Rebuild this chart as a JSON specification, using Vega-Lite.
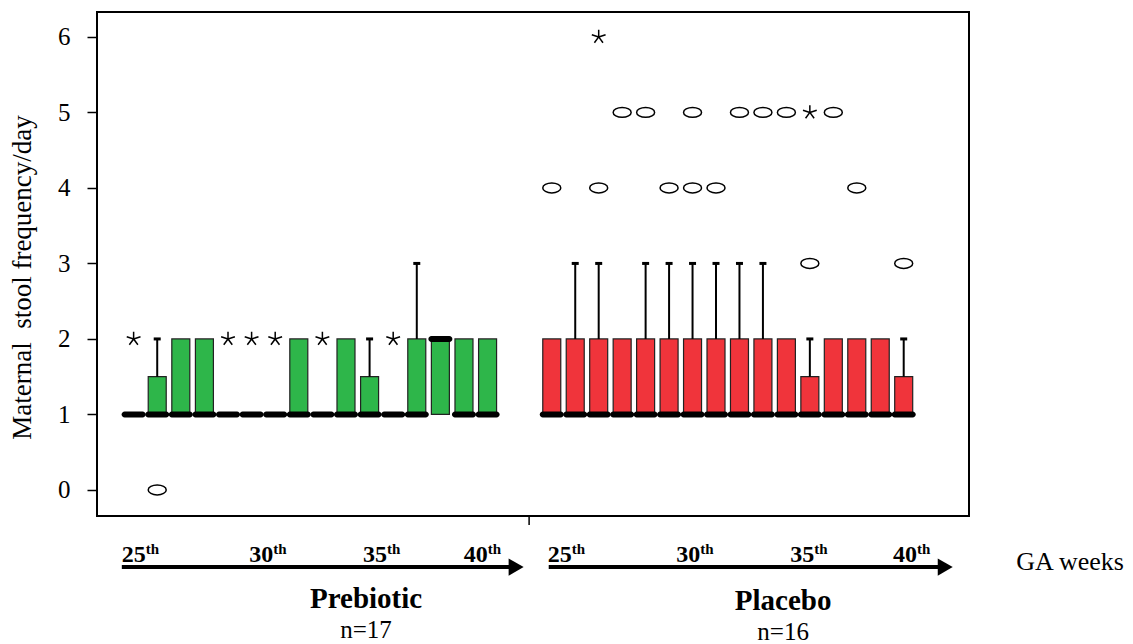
{
  "$schema": "https://vega.github.io/schema/vega-lite/v6.json",
  "width": 872,
  "height": 504,
  "autosize": {"type": "none"},
  "padding": {"left": 97, "top": 12, "right": 164, "bottom": 128},
  "background": "white",
  "config": {
    "font": "Liberation Serif",
    "view": {"stroke": "#000", "strokeWidth": 2},
    "axisY": {
      "grid": false, "domain": false, "tickSize": 10, "tickWidth": 1.5, "tickColor": "#000",
      "labelFont": "Liberation Serif", "labelFontSize": 25, "labelColor": "#000", "labelPadding": 17,
      "titleFont": "Liberation Serif", "titleFontSize": 27, "titleFontWeight": "normal", "titleColor": "#000",
      "titleX": -67, "titleY": 265, "titleAngle": -90, "titleAlign": "center", "titleBaseline": "alphabetic"
    }
  },
  "datasets": {
    "boxes": [
      {"group": "Prebiotic", "week": 25, "q1": 1, "median": 1, "q3": 1, "upper": 1},
      {"group": "Prebiotic", "week": 26, "q1": 1, "median": 1, "q3": 1.5, "upper": 2},
      {"group": "Prebiotic", "week": 27, "q1": 1, "median": 1, "q3": 2, "upper": 2},
      {"group": "Prebiotic", "week": 28, "q1": 1, "median": 1, "q3": 2, "upper": 2},
      {"group": "Prebiotic", "week": 29, "q1": 1, "median": 1, "q3": 1, "upper": 1},
      {"group": "Prebiotic", "week": 30, "q1": 1, "median": 1, "q3": 1, "upper": 1},
      {"group": "Prebiotic", "week": 31, "q1": 1, "median": 1, "q3": 1, "upper": 1},
      {"group": "Prebiotic", "week": 32, "q1": 1, "median": 1, "q3": 2, "upper": 2},
      {"group": "Prebiotic", "week": 33, "q1": 1, "median": 1, "q3": 1, "upper": 1},
      {"group": "Prebiotic", "week": 34, "q1": 1, "median": 1, "q3": 2, "upper": 2},
      {"group": "Prebiotic", "week": 35, "q1": 1, "median": 1, "q3": 1.5, "upper": 2},
      {"group": "Prebiotic", "week": 36, "q1": 1, "median": 1, "q3": 1, "upper": 1},
      {"group": "Prebiotic", "week": 37, "q1": 1, "median": 1, "q3": 2, "upper": 3},
      {"group": "Prebiotic", "week": 38, "q1": 1, "median": 2, "q3": 2, "upper": 2},
      {"group": "Prebiotic", "week": 39, "q1": 1, "median": 1, "q3": 2, "upper": 2},
      {"group": "Prebiotic", "week": 40, "q1": 1, "median": 1, "q3": 2, "upper": 2},
      {"group": "Placebo", "week": 25, "q1": 1, "median": 1, "q3": 2, "upper": 2},
      {"group": "Placebo", "week": 26, "q1": 1, "median": 1, "q3": 2, "upper": 3},
      {"group": "Placebo", "week": 27, "q1": 1, "median": 1, "q3": 2, "upper": 3},
      {"group": "Placebo", "week": 28, "q1": 1, "median": 1, "q3": 2, "upper": 2},
      {"group": "Placebo", "week": 29, "q1": 1, "median": 1, "q3": 2, "upper": 3},
      {"group": "Placebo", "week": 30, "q1": 1, "median": 1, "q3": 2, "upper": 3},
      {"group": "Placebo", "week": 31, "q1": 1, "median": 1, "q3": 2, "upper": 3},
      {"group": "Placebo", "week": 32, "q1": 1, "median": 1, "q3": 2, "upper": 3},
      {"group": "Placebo", "week": 33, "q1": 1, "median": 1, "q3": 2, "upper": 3},
      {"group": "Placebo", "week": 34, "q1": 1, "median": 1, "q3": 2, "upper": 3},
      {"group": "Placebo", "week": 35, "q1": 1, "median": 1, "q3": 2, "upper": 2},
      {"group": "Placebo", "week": 36, "q1": 1, "median": 1, "q3": 1.5, "upper": 2},
      {"group": "Placebo", "week": 37, "q1": 1, "median": 1, "q3": 2, "upper": 2},
      {"group": "Placebo", "week": 38, "q1": 1, "median": 1, "q3": 2, "upper": 2},
      {"group": "Placebo", "week": 39, "q1": 1, "median": 1, "q3": 2, "upper": 2},
      {"group": "Placebo", "week": 40, "q1": 1, "median": 1, "q3": 1.5, "upper": 2}
    ],
    "points": [
      {"group": "Prebiotic", "week": 25, "value": 2, "kind": "extreme"},
      {"group": "Prebiotic", "week": 26, "value": 0, "kind": "outlier"},
      {"group": "Prebiotic", "week": 29, "value": 2, "kind": "extreme"},
      {"group": "Prebiotic", "week": 30, "value": 2, "kind": "extreme"},
      {"group": "Prebiotic", "week": 31, "value": 2, "kind": "extreme"},
      {"group": "Prebiotic", "week": 33, "value": 2, "kind": "extreme"},
      {"group": "Prebiotic", "week": 36, "value": 2, "kind": "extreme"},
      {"group": "Placebo", "week": 25, "value": 4, "kind": "outlier"},
      {"group": "Placebo", "week": 27, "value": 4, "kind": "outlier"},
      {"group": "Placebo", "week": 27, "value": 6, "kind": "extreme"},
      {"group": "Placebo", "week": 28, "value": 5, "kind": "outlier"},
      {"group": "Placebo", "week": 29, "value": 5, "kind": "outlier"},
      {"group": "Placebo", "week": 30, "value": 4, "kind": "outlier"},
      {"group": "Placebo", "week": 31, "value": 5, "kind": "outlier"},
      {"group": "Placebo", "week": 31, "value": 4, "kind": "outlier"},
      {"group": "Placebo", "week": 32, "value": 4, "kind": "outlier"},
      {"group": "Placebo", "week": 33, "value": 5, "kind": "outlier"},
      {"group": "Placebo", "week": 34, "value": 5, "kind": "outlier"},
      {"group": "Placebo", "week": 35, "value": 5, "kind": "outlier"},
      {"group": "Placebo", "week": 36, "value": 5, "kind": "extreme"},
      {"group": "Placebo", "week": 36, "value": 3, "kind": "outlier"},
      {"group": "Placebo", "week": 37, "value": 5, "kind": "outlier"},
      {"group": "Placebo", "week": 38, "value": 4, "kind": "outlier"},
      {"group": "Placebo", "week": 40, "value": 3, "kind": "outlier"}
    ],
    "labels": [
      {"group": "Prebiotic", "week": 24.5, "v": -0.955, "text": "25", "kind": "num"},
      {"group": "Prebiotic", "week": 29.9, "v": -0.955, "text": "30", "kind": "num"},
      {"group": "Prebiotic", "week": 34.72, "v": -0.955, "text": "35", "kind": "num"},
      {"group": "Prebiotic", "week": 38.99, "v": -0.955, "text": "40", "kind": "num"},
      {"group": "Prebiotic", "week": 34.85, "v": -1.565, "text": "Prebiotic", "kind": "grp"},
      {"group": "Prebiotic", "week": 34.85, "v": -1.96, "text": "n=17", "kind": "n"},
      {"group": "Placebo", "week": 24.83, "v": -0.955, "text": "25", "kind": "num"},
      {"group": "Placebo", "week": 30.31, "v": -0.955, "text": "30", "kind": "num"},
      {"group": "Placebo", "week": 35.16, "v": -0.955, "text": "35", "kind": "num"},
      {"group": "Placebo", "week": 39.54, "v": -0.955, "text": "40", "kind": "num"},
      {"group": "Placebo", "week": 34.86, "v": -1.59, "text": "Placebo", "kind": "grp"},
      {"group": "Placebo", "week": 34.86, "v": -1.99, "text": "n=16", "kind": "n"},
      {"group": "Placebo", "week": 44.8, "v": -1.06, "text": "GA weeks", "kind": "ga"}
    ],
    "arrows": [
      {"group": "Prebiotic", "week": 24.5, "week2": 40.96, "head": 41.21, "v": -1.021},
      {"group": "Placebo", "week": 24.87, "week2": 41.52, "head": 41.77, "v": -1.021}
    ],
    "ticks": [
      {"group": "Prebiotic", "week": 41.76, "v": -0.345, "v2": -0.465}
    ]
  },
  "layer": [
    {
      "encoding": {"x": {"field": "week", "type": "quantitative", "scale": {"domain": [23.66, 60.19], "nice": false, "zero": false}, "axis": null}},
      "layer": [
        {"data": {"name": "boxes"}, "transform": [{"filter": "datum.group === 'Prebiotic' && datum.q3 > datum.q1"}],
         "mark": {"type": "bar", "size": 18, "fill": "#2eb64a", "stroke": "#222", "strokeWidth": 1.2},
         "encoding": {"y": {"field": "q1", "type": "quantitative", "scale": {"domain": [-0.345, 6.33], "nice": false, "zero": false}, "axis": {"values": [0, 1, 2, 3, 4, 5, 6]}, "title": "Maternal\u00a0 stool frequency/day"}, "y2": {"field": "q3"}}},
        {"data": {"name": "boxes"}, "transform": [{"filter": "datum.group === 'Prebiotic' && datum.upper > datum.q3"}],
         "mark": {"type": "rule", "color": "#000", "strokeWidth": 2},
         "encoding": {"y": {"field": "q3", "type": "quantitative", "scale": {"domain": [-0.345, 6.33], "nice": false, "zero": false}, "axis": {"values": [0, 1, 2, 3, 4, 5, 6]}, "title": "Maternal\u00a0 stool frequency/day"}, "y2": {"field": "upper"}}},
        {"data": {"name": "boxes"}, "transform": [{"filter": "datum.group === 'Prebiotic' && datum.upper > datum.q3"}],
         "mark": {"type": "tick", "orient": "horizontal", "color": "#000", "size": 7, "thickness": 3, "opacity": 1},
         "encoding": {"y": {"field": "upper", "type": "quantitative", "scale": {"domain": [-0.345, 6.33], "nice": false, "zero": false}, "axis": {"values": [0, 1, 2, 3, 4, 5, 6]}, "title": "Maternal\u00a0 stool frequency/day"}}},
        {"data": {"name": "boxes"}, "transform": [{"filter": "datum.group === 'Prebiotic'"}],
         "mark": {"type": "tick", "orient": "horizontal", "color": "#000", "size": 24, "thickness": 6, "cornerRadius": 3, "opacity": 1},
         "encoding": {"y": {"field": "median", "type": "quantitative", "scale": {"domain": [-0.345, 6.33], "nice": false, "zero": false}, "axis": {"values": [0, 1, 2, 3, 4, 5, 6]}, "title": "Maternal\u00a0 stool frequency/day"}}},
        {"data": {"name": "points"}, "transform": [{"filter": "datum.group === 'Prebiotic' && datum.kind === 'outlier'"}],
         "mark": {"type": "point", "shape": "M-1,0A1,0.55,0,1,1,1,0A1,0.55,0,1,1,-1,0Z", "size": 324, "filled": false, "stroke": "#000", "strokeWidth": 1.5, "opacity": 1},
         "encoding": {"y": {"field": "value", "type": "quantitative", "scale": {"domain": [-0.345, 6.33], "nice": false, "zero": false}, "axis": {"values": [0, 1, 2, 3, 4, 5, 6]}, "title": "Maternal\u00a0 stool frequency/day"}}},
        {"data": {"name": "points"}, "transform": [{"filter": "datum.group === 'Prebiotic' && datum.kind === 'extreme'"}],
         "mark": {"type": "point", "shape": "M0,0L0,-1M0,0L0.95,-0.31M0,0L-0.95,-0.31M0,0L-0.59,0.81M0,0L0.59,0.81", "size": 210, "filled": false, "stroke": "#000", "strokeWidth": 1.5, "opacity": 1},
         "encoding": {"y": {"field": "value", "type": "quantitative", "scale": {"domain": [-0.345, 6.33], "nice": false, "zero": false}, "axis": {"values": [0, 1, 2, 3, 4, 5, 6]}, "title": "Maternal\u00a0 stool frequency/day"}}},
        {"data": {"name": "arrows"}, "transform": [{"filter": "datum.group === 'Prebiotic'"}],
         "mark": {"type": "rule", "color": "#000", "strokeWidth": 4},
         "encoding": {"x2": {"field": "week2"}, "y": {"field": "v", "type": "quantitative", "scale": {"domain": [-0.345, 6.33], "nice": false, "zero": false}, "axis": {"values": [0, 1, 2, 3, 4, 5, 6]}, "title": "Maternal\u00a0 stool frequency/day"}}},
        {"data": {"name": "arrows"}, "transform": [{"filter": "datum.group === 'Prebiotic'"}],
         "mark": {"type": "point", "shape": "triangle-right", "size": 300, "filled": true, "color": "#000", "opacity": 1},
         "encoding": {"x": {"field": "head", "type": "quantitative", "scale": {"domain": [23.66, 60.19], "nice": false, "zero": false}, "axis": null}, "y": {"field": "v", "type": "quantitative", "scale": {"domain": [-0.345, 6.33], "nice": false, "zero": false}, "axis": {"values": [0, 1, 2, 3, 4, 5, 6]}, "title": "Maternal\u00a0 stool frequency/day"}}},
        {"data": {"name": "ticks"}, "transform": [{"filter": "datum.group === 'Prebiotic'"}],
         "mark": {"type": "rule", "color": "#000", "strokeWidth": 1.5},
         "encoding": {"y": {"field": "v", "type": "quantitative", "scale": {"domain": [-0.345, 6.33], "nice": false, "zero": false}, "axis": {"values": [0, 1, 2, 3, 4, 5, 6]}, "title": "Maternal\u00a0 stool frequency/day"}, "y2": {"field": "v2"}}},
        {"data": {"name": "labels"}, "transform": [{"filter": "datum.group === 'Prebiotic' && datum.kind === 'num'"}],
         "mark": {"type": "text", "align": "left", "baseline": "alphabetic", "font": "Liberation Serif", "fontSize": 24, "fontWeight": "bold", "color": "#000"},
         "encoding": {"text": {"field": "text"}, "y": {"field": "v", "type": "quantitative", "scale": {"domain": [-0.345, 6.33], "nice": false, "zero": false}, "axis": {"values": [0, 1, 2, 3, 4, 5, 6]}, "title": "Maternal\u00a0 stool frequency/day"}}},
        {"data": {"name": "labels"}, "transform": [{"filter": "datum.group === 'Prebiotic' && datum.kind === 'num'"}],
         "mark": {"type": "text", "align": "left", "baseline": "alphabetic", "font": "Liberation Serif", "fontSize": 15, "fontWeight": "bold", "color": "#000", "dx": 24, "dy": -8, "text": "th"},
         "encoding": {"y": {"field": "v", "type": "quantitative", "scale": {"domain": [-0.345, 6.33], "nice": false, "zero": false}, "axis": {"values": [0, 1, 2, 3, 4, 5, 6]}, "title": "Maternal\u00a0 stool frequency/day"}}},
        {"data": {"name": "labels"}, "transform": [{"filter": "datum.group === 'Prebiotic' && datum.kind === 'grp'"}],
         "mark": {"type": "text", "align": "center", "baseline": "alphabetic", "font": "Liberation Serif", "fontSize": 29, "fontWeight": "bold", "color": "#000"},
         "encoding": {"text": {"field": "text"}, "y": {"field": "v", "type": "quantitative", "scale": {"domain": [-0.345, 6.33], "nice": false, "zero": false}, "axis": {"values": [0, 1, 2, 3, 4, 5, 6]}, "title": "Maternal\u00a0 stool frequency/day"}}},
        {"data": {"name": "labels"}, "transform": [{"filter": "datum.group === 'Prebiotic' && datum.kind === 'n'"}],
         "mark": {"type": "text", "align": "center", "baseline": "alphabetic", "font": "Liberation Serif", "fontSize": 25, "color": "#000"},
         "encoding": {"text": {"field": "text"}, "y": {"field": "v", "type": "quantitative", "scale": {"domain": [-0.345, 6.33], "nice": false, "zero": false}, "axis": {"values": [0, 1, 2, 3, 4, 5, 6]}, "title": "Maternal\u00a0 stool frequency/day"}}}
      ]
    },
    {
      "encoding": {"x": {"field": "week", "type": "quantitative", "scale": {"domain": [5.83, 42.57], "nice": false, "zero": false}, "axis": null}},
      "layer": [
        {"data": {"name": "boxes"}, "transform": [{"filter": "datum.group === 'Placebo' && datum.q3 > datum.q1"}],
         "mark": {"type": "bar", "size": 18, "fill": "#f0343b", "stroke": "#222", "strokeWidth": 1.2},
         "encoding": {"y": {"field": "q1", "type": "quantitative", "scale": {"domain": [-0.345, 6.33], "nice": false, "zero": false}, "axis": {"values": [0, 1, 2, 3, 4, 5, 6]}, "title": "Maternal\u00a0 stool frequency/day"}, "y2": {"field": "q3"}}},
        {"data": {"name": "boxes"}, "transform": [{"filter": "datum.group === 'Placebo' && datum.upper > datum.q3"}],
         "mark": {"type": "rule", "color": "#000", "strokeWidth": 2},
         "encoding": {"y": {"field": "q3", "type": "quantitative", "scale": {"domain": [-0.345, 6.33], "nice": false, "zero": false}, "axis": {"values": [0, 1, 2, 3, 4, 5, 6]}, "title": "Maternal\u00a0 stool frequency/day"}, "y2": {"field": "upper"}}},
        {"data": {"name": "boxes"}, "transform": [{"filter": "datum.group === 'Placebo' && datum.upper > datum.q3"}],
         "mark": {"type": "tick", "orient": "horizontal", "color": "#000", "size": 7, "thickness": 3, "opacity": 1},
         "encoding": {"y": {"field": "upper", "type": "quantitative", "scale": {"domain": [-0.345, 6.33], "nice": false, "zero": false}, "axis": {"values": [0, 1, 2, 3, 4, 5, 6]}, "title": "Maternal\u00a0 stool frequency/day"}}},
        {"data": {"name": "boxes"}, "transform": [{"filter": "datum.group === 'Placebo'"}],
         "mark": {"type": "tick", "orient": "horizontal", "color": "#000", "size": 24, "thickness": 6, "cornerRadius": 3, "opacity": 1},
         "encoding": {"y": {"field": "median", "type": "quantitative", "scale": {"domain": [-0.345, 6.33], "nice": false, "zero": false}, "axis": {"values": [0, 1, 2, 3, 4, 5, 6]}, "title": "Maternal\u00a0 stool frequency/day"}}},
        {"data": {"name": "points"}, "transform": [{"filter": "datum.group === 'Placebo' && datum.kind === 'outlier'"}],
         "mark": {"type": "point", "shape": "M-1,0A1,0.55,0,1,1,1,0A1,0.55,0,1,1,-1,0Z", "size": 324, "filled": false, "stroke": "#000", "strokeWidth": 1.5, "opacity": 1},
         "encoding": {"y": {"field": "value", "type": "quantitative", "scale": {"domain": [-0.345, 6.33], "nice": false, "zero": false}, "axis": {"values": [0, 1, 2, 3, 4, 5, 6]}, "title": "Maternal\u00a0 stool frequency/day"}}},
        {"data": {"name": "points"}, "transform": [{"filter": "datum.group === 'Placebo' && datum.kind === 'extreme'"}],
         "mark": {"type": "point", "shape": "M0,0L0,-1M0,0L0.95,-0.31M0,0L-0.95,-0.31M0,0L-0.59,0.81M0,0L0.59,0.81", "size": 210, "filled": false, "stroke": "#000", "strokeWidth": 1.5, "opacity": 1},
         "encoding": {"y": {"field": "value", "type": "quantitative", "scale": {"domain": [-0.345, 6.33], "nice": false, "zero": false}, "axis": {"values": [0, 1, 2, 3, 4, 5, 6]}, "title": "Maternal\u00a0 stool frequency/day"}}},
        {"data": {"name": "arrows"}, "transform": [{"filter": "datum.group === 'Placebo'"}],
         "mark": {"type": "rule", "color": "#000", "strokeWidth": 4},
         "encoding": {"x2": {"field": "week2"}, "y": {"field": "v", "type": "quantitative", "scale": {"domain": [-0.345, 6.33], "nice": false, "zero": false}, "axis": {"values": [0, 1, 2, 3, 4, 5, 6]}, "title": "Maternal\u00a0 stool frequency/day"}}},
        {"data": {"name": "arrows"}, "transform": [{"filter": "datum.group === 'Placebo'"}],
         "mark": {"type": "point", "shape": "triangle-right", "size": 300, "filled": true, "color": "#000", "opacity": 1},
         "encoding": {"x": {"field": "head", "type": "quantitative", "scale": {"domain": [5.83, 42.57], "nice": false, "zero": false}, "axis": null}, "y": {"field": "v", "type": "quantitative", "scale": {"domain": [-0.345, 6.33], "nice": false, "zero": false}, "axis": {"values": [0, 1, 2, 3, 4, 5, 6]}, "title": "Maternal\u00a0 stool frequency/day"}}},
        {"data": {"name": "labels"}, "transform": [{"filter": "datum.group === 'Placebo' && datum.kind === 'num'"}],
         "mark": {"type": "text", "align": "left", "baseline": "alphabetic", "font": "Liberation Serif", "fontSize": 24, "fontWeight": "bold", "color": "#000"},
         "encoding": {"text": {"field": "text"}, "y": {"field": "v", "type": "quantitative", "scale": {"domain": [-0.345, 6.33], "nice": false, "zero": false}, "axis": {"values": [0, 1, 2, 3, 4, 5, 6]}, "title": "Maternal\u00a0 stool frequency/day"}}},
        {"data": {"name": "labels"}, "transform": [{"filter": "datum.group === 'Placebo' && datum.kind === 'num'"}],
         "mark": {"type": "text", "align": "left", "baseline": "alphabetic", "font": "Liberation Serif", "fontSize": 15, "fontWeight": "bold", "color": "#000", "dx": 24, "dy": -8, "text": "th"},
         "encoding": {"y": {"field": "v", "type": "quantitative", "scale": {"domain": [-0.345, 6.33], "nice": false, "zero": false}, "axis": {"values": [0, 1, 2, 3, 4, 5, 6]}, "title": "Maternal\u00a0 stool frequency/day"}}},
        {"data": {"name": "labels"}, "transform": [{"filter": "datum.group === 'Placebo' && datum.kind === 'grp'"}],
         "mark": {"type": "text", "align": "center", "baseline": "alphabetic", "font": "Liberation Serif", "fontSize": 29, "fontWeight": "bold", "color": "#000"},
         "encoding": {"text": {"field": "text"}, "y": {"field": "v", "type": "quantitative", "scale": {"domain": [-0.345, 6.33], "nice": false, "zero": false}, "axis": {"values": [0, 1, 2, 3, 4, 5, 6]}, "title": "Maternal\u00a0 stool frequency/day"}}},
        {"data": {"name": "labels"}, "transform": [{"filter": "datum.group === 'Placebo' && datum.kind === 'n'"}],
         "mark": {"type": "text", "align": "center", "baseline": "alphabetic", "font": "Liberation Serif", "fontSize": 25, "color": "#000"},
         "encoding": {"text": {"field": "text"}, "y": {"field": "v", "type": "quantitative", "scale": {"domain": [-0.345, 6.33], "nice": false, "zero": false}, "axis": {"values": [0, 1, 2, 3, 4, 5, 6]}, "title": "Maternal\u00a0 stool frequency/day"}}},
        {"data": {"name": "labels"}, "transform": [{"filter": "datum.group === 'Placebo' && datum.kind === 'ga'"}],
         "mark": {"type": "text", "align": "left", "baseline": "alphabetic", "font": "Liberation Serif", "fontSize": 26, "color": "#000"},
         "encoding": {"text": {"field": "text"}, "y": {"field": "v", "type": "quantitative", "scale": {"domain": [-0.345, 6.33], "nice": false, "zero": false}, "axis": {"values": [0, 1, 2, 3, 4, 5, 6]}, "title": "Maternal\u00a0 stool frequency/day"}}}
      ]
    }
  ],
  "resolve": {"scale": {"x": "independent"}}
}
